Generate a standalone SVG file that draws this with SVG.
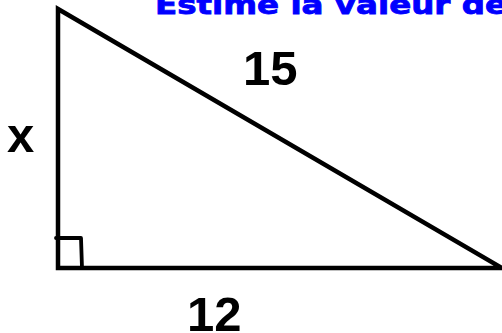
<svg xmlns="http://www.w3.org/2000/svg" width="502" height="333" viewBox="0 0 502 333">
<style>
.edge{fill:none;stroke:#000;stroke-width:4.5;stroke-linejoin:miter;stroke-linecap:butt}
.mark{fill:none;stroke:#000;stroke-width:3.8;stroke-linejoin:round;stroke-linecap:round}
.lbl{font-family:"Liberation Sans",Arial,sans-serif;font-weight:bold;font-size:49px;fill:#000}
.title{font-family:"DejaVu Sans",sans-serif;font-weight:bold;font-size:26px;fill:#0000ff;stroke:#0000ff;stroke-width:0.8}
</style>
<rect width="502" height="333" fill="#fff"/>
<text class="title" x="155" y="14" textLength="352" lengthAdjust="spacingAndGlyphs">Estime la valeur de</text>
<g id="triangle">
<polygon class="edge" points="58,9 58,268 502,268"/>
<polyline class="mark" points="56,238 81,238 82,268"/>
</g>
<g id="labels">
<text class="lbl" x="243" y="85">15</text>
<text class="lbl" x="7" y="152">x</text>
<text class="lbl" x="187" y="331">12</text>
</g>
</svg>
